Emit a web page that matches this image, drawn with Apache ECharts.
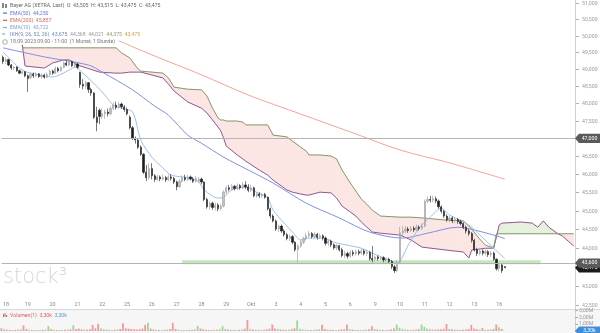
<!DOCTYPE html>
<html><head><meta charset="utf-8">
<script src="https://cdn.jsdelivr.net/npm/echarts@6/dist/echarts.min.js"></script>
<style>html,body{margin:0;padding:0;background:#fff}#c{width:600px;height:333px}</style>
</head><body><div id="c"></div>
<script>
// ---------- data ----------
const dayLabels = ['18','19','20','21','22','25','26','27','28','29','Okt','3','4','5','6','9','10','11','12','13','16'];
const hourLabels = ['09','10','11','12','13','14','15','16','17'];
const futureSlots = 25;
// [open, close, low, high]
const ohlc = [
[49.35,49.22,49.15,49.40],[49.22,49.28,49.15,49.35],[49.28,49.12,49.08,49.30],[49.12,49.03,48.98,49.15],[49.03,49.06,48.97,49.10],[49.06,48.95,48.92,49.08],[48.95,48.88,48.85,48.98],[48.88,48.92,48.84,48.96],[48.92,48.80,48.76,48.94],
[48.80,48.72,48.33,48.84],[48.75,48.85,48.70,48.90],[48.85,48.80,48.74,48.90],[48.80,48.86,48.76,48.90],[48.86,48.78,48.74,48.88],[48.78,48.82,48.72,48.87],[48.82,48.76,48.72,48.86],[48.76,48.84,48.73,48.90],[48.84,48.94,48.80,48.98],
[48.94,48.88,48.83,48.98],[48.88,49.02,48.85,49.08],[49.02,48.95,48.90,49.06],[48.95,49.05,48.92,49.08],[49.05,49.18,49.02,49.22],[49.18,49.12,49.08,49.26],[49.12,49.22,49.08,49.27],[49.22,49.10,49.06,49.25],[49.10,49.15,49.04,49.20],
[49.15,49.05,49.00,49.18],[48.90,48.55,48.45,48.92],[48.55,48.50,48.40,48.70],[48.50,48.60,48.42,48.66],[48.60,48.40,48.30,48.62],[48.40,48.30,48.22,48.45],[48.30,47.60,47.55,48.32],[47.60,47.45,47.20,47.90],[47.80,47.62,47.40,47.85],
[47.62,47.70,47.55,47.85],[47.70,47.75,47.55,47.82],[47.75,47.70,47.62,47.85],[47.70,47.85,47.65,47.92],[47.85,47.95,47.80,48.02],[47.95,47.88,47.82,48.05],[47.88,47.98,47.84,48.04],[47.98,47.90,47.84,48.02],[47.90,47.82,47.76,47.95],
[47.82,47.70,47.65,47.88],[47.60,47.30,47.25,47.65],[47.30,47.00,46.95,47.35],[47.00,46.95,46.85,47.05],[46.95,46.75,46.70,47.00],[46.75,46.55,46.50,46.80],[46.55,46.05,46.00,46.58],[46.05,45.90,45.80,46.25],[45.90,46.15,45.85,46.30],
[46.15,45.95,45.85,46.30],[45.95,45.85,45.78,46.00],[45.85,45.92,45.80,45.98],[45.92,45.86,45.80,45.96],[45.86,45.90,45.82,45.98],[45.90,45.84,45.78,45.95],[45.84,45.92,45.80,45.98],[45.92,45.88,45.82,46.00],[45.88,45.78,45.72,45.92],
[45.78,45.65,45.55,45.82],[45.65,45.80,45.62,45.86],[45.80,45.90,45.76,45.96],[45.90,45.85,45.80,45.98],[45.85,45.92,45.80,45.98],[45.92,45.86,45.82,45.96],[45.86,45.80,45.75,45.92],[45.80,45.88,45.76,45.94],[45.80,45.86,45.76,45.92],
[45.86,45.78,45.72,45.90],[45.78,45.30,45.25,45.80],[45.30,45.10,45.05,45.35],[45.10,45.20,45.02,45.25],[45.20,45.08,45.02,45.24],[45.08,45.15,45.00,45.22],[45.15,45.05,44.98,45.20],[45.05,45.12,45.00,45.18],[45.12,45.50,45.08,45.55],
[45.50,45.62,45.45,45.68],[45.62,45.58,45.52,45.70],[45.58,45.66,45.55,45.72],[45.66,45.60,45.55,45.70],[45.60,45.68,45.56,45.74],[45.68,45.62,45.57,45.72],[45.62,45.70,45.58,45.78],[45.70,45.64,45.58,45.80],[45.64,45.55,45.50,45.72],
[45.55,45.62,45.50,45.70],[45.62,45.40,45.36,45.65],[45.40,45.45,45.35,45.50],[45.45,45.40,45.34,45.50],[45.40,45.44,45.35,45.48],[45.44,45.36,45.32,45.48],[45.36,45.05,45.00,45.38],[45.05,44.85,44.78,45.08],[44.85,44.72,44.68,44.90],
[44.72,44.50,44.45,44.76],[44.50,44.58,44.42,44.62],[44.58,44.45,44.40,44.62],[44.45,44.35,44.30,44.50],[44.35,44.25,44.20,44.40],[44.25,44.30,44.18,44.36],[44.30,44.15,44.10,44.34],[44.15,43.95,43.90,44.18],[43.95,44.05,43.62,44.10],
[44.05,44.15,44.00,44.22],[44.15,44.25,44.10,44.30],[44.25,44.32,44.20,44.40],[44.32,44.38,44.28,44.45],[44.38,44.30,44.25,44.42],[44.30,44.36,44.26,44.42],[44.36,44.28,44.22,44.40],[44.28,44.32,44.24,44.38],[44.32,44.26,44.20,44.36],
[44.26,44.12,44.06,44.30],[44.12,44.18,44.05,44.24],[44.18,44.08,44.02,44.22],[44.08,44.00,43.95,44.12],[44.00,44.06,43.94,44.10],[44.06,43.95,43.90,44.08],[43.95,43.80,43.75,44.00],[43.80,43.85,43.72,43.92],[43.85,43.78,43.72,43.90],
[43.78,43.88,43.74,43.94],[43.88,43.84,43.78,43.94],[43.84,43.90,43.80,43.96],[43.90,43.86,43.80,43.95],[43.86,43.92,43.82,43.98],[43.92,43.85,43.80,43.96],[43.85,43.88,43.78,43.95],[43.88,43.72,43.66,43.92],[43.72,43.68,43.62,44.05],
[43.70,43.76,43.64,43.80],[43.76,43.72,43.66,43.80],[43.72,43.74,43.66,43.78],[43.74,43.68,43.62,43.78],[43.68,43.70,43.62,43.74],[43.70,43.64,43.58,43.74],[43.64,43.50,43.44,43.68],[43.50,43.40,43.34,43.55],[43.40,43.62,43.36,43.68],
[43.62,44.40,43.58,44.55],[44.40,44.45,44.30,44.58],[44.45,44.50,44.40,44.58],[44.50,44.46,44.40,44.56],[44.46,44.52,44.42,44.58],[44.52,44.48,44.42,44.58],[44.48,44.55,44.44,44.62],[44.55,44.52,44.46,44.60],[44.52,44.58,44.48,44.66],
[44.58,45.25,44.55,45.30],[45.25,45.30,45.20,45.38],[45.30,45.28,45.22,45.40],[45.28,45.32,45.22,45.40],[45.32,45.26,45.20,45.38],[45.26,45.10,45.05,45.30],[45.10,44.98,44.92,45.14],[44.98,44.85,44.80,45.02],[44.85,44.75,44.70,44.90],
[44.75,44.80,44.68,44.86],[44.80,44.72,44.66,44.84],[44.72,44.76,44.66,44.82],[44.76,44.70,44.64,44.80],[44.70,44.65,44.60,44.76],[44.65,44.55,44.50,44.68],[44.55,44.45,44.38,44.60],[44.45,44.38,44.32,44.50],[44.38,44.20,44.14,44.42],
[44.20,43.95,43.90,44.24],[43.95,43.85,43.78,44.00],[43.85,43.92,43.80,43.96],[43.92,43.86,43.80,43.96],[43.86,43.90,43.80,43.96],[43.90,43.82,43.76,43.94],[43.82,43.86,43.76,43.92],[43.86,43.70,43.66,43.90],[43.70,43.45,43.40,43.72],
[43.45,43.55,43.38,43.60],[43.55,43.40,43.34,43.58],[43.505,43.475,43.475,43.515]
];
// volume in millions
const volume = [
0.40,0.25,0.18,0.16,0.14,0.15,0.18,0.26,0.80, 0.30,0.20,0.16,0.14,0.12,0.14,0.18,0.22,0.72,
0.28,0.20,0.15,0.14,0.16,0.18,0.20,0.25,0.80, 0.30,0.35,0.25,0.22,0.20,0.28,0.90,0.40,1.05,
0.35,0.25,0.20,0.18,0.16,0.18,0.22,0.30,1.15, 0.40,0.35,0.30,0.25,0.22,0.28,0.35,0.90,1.20,
0.35,0.22,0.18,0.16,0.15,0.18,0.20,0.28,1.20, 0.30,0.20,0.16,0.14,0.13,0.15,0.18,0.24,0.75,
0.35,0.25,0.20,0.16,0.15,0.18,0.20,0.26,0.70, 0.30,0.22,0.18,0.16,0.15,0.17,0.22,0.35,1.60,
0.30,0.22,0.18,0.16,0.16,0.18,0.24,0.35,0.95, 0.35,0.28,0.22,0.18,0.17,0.20,0.28,0.40,1.55,
0.30,0.22,0.18,0.16,0.15,0.17,0.20,0.26,0.90, 0.30,0.22,0.18,0.16,0.15,0.17,0.22,0.28,0.95,
0.28,0.20,0.16,0.15,0.14,0.16,0.20,0.26,0.70, 0.30,0.22,0.18,0.16,0.15,0.17,0.22,0.35,0.95,
0.50,0.30,0.22,0.18,0.16,0.18,0.22,0.28,0.95, 0.60,0.35,0.25,0.22,0.20,0.22,0.26,0.32,1.00,
0.30,0.24,0.20,0.18,0.16,0.18,0.22,0.30,0.90, 0.35,0.25,0.20,0.45,0.18,0.18,0.22,0.30,0.95,
0.55,0.30,0.0033
];
// [slot, value]
const ema10 = [[0,49.51],[7,48.97],[13,48.83],[18,48.77],[24,48.97],[26,49.06],[29,48.88],[36,48.33],[40,47.95],[43,47.86],[47,47.75],[50,46.95],[54,46.47],[58,46.17],[61,45.97],[68,45.89],[71,45.78],[73,45.56],[78,45.34],[80,45.36],[83,45.56],[88,45.64],[92,45.50],[96,45.34],[98,45.01],[102,44.66],[105,44.42],[108,44.21],[111,44.26],[116,44.26],[120,44.15],[125,44.07],[130,43.99],[134,43.86],[140,43.68],[143,43.60],[147,44.07],[151,44.53],[155,44.82],[159,45.06],[162,44.88],[169,44.61],[173,44.34],[178,43.99],[182,43.722]];
const ema50 = [[0,49.63],[15,49.36],[31,49.12],[36,48.91],[47,48.39],[55,47.92],[60,47.66],[67,47.09],[72,46.86],[80,46.47],[89,46.11],[98,45.75],[110,45.20],[122,44.80],[133,44.42],[145,44.26],[154,44.39],[165,44.55],[174,44.42],[182,44.25]];
const ema200 = [[42,49.84],[54,49.42],[72,48.83],[89,48.24],[108,47.69],[126,47.18],[144,46.67],[162,46.31],[182,45.857]];
const cloudSlots = [7,8,15,18,22,24,27,35,41,43,46,49,50,58,60,62,67,72,74,76,78,79,80,81,85,87,88,93,96,98,103,105,108,110,111,115,119,121,123,126,128,130,132,134,137,144,148,152,161,167,169,170,173,175,177,178,179,180,181,188,192,194,196,198,201,203,205,207];
const senkouA = [49.72,49.09,49.03,49.18,49.27,49.27,49.12,48.91,48.88,48.88,48.91,48.91,48.91,48.74,48.56,48.36,48.04,47.86,47.72,47.52,47.32,47.21,47.01,46.78,46.53,46.42,46.36,46.11,45.97,45.83,45.56,45.50,45.45,45.42,45.42,45.50,45.48,45.34,45.12,44.96,44.85,44.69,44.55,44.42,44.39,44.34,44.21,44.02,43.94,43.89,43.73,43.94,43.97,43.99,43.99,43.99,44.29,44.61,44.66,44.69,44.66,44.55,44.72,44.55,44.39,44.31,44.18,44.05];
const senkouB = [49.63,49.63,49.63,49.63,49.63,49.63,49.63,49.63,49.63,49.48,49.33,49.00,48.94,48.88,48.74,48.47,48.41,48.39,48.21,47.86,47.58,47.52,47.52,47.49,47.49,47.46,47.38,47.38,47.38,47.09,47.04,46.92,46.75,46.64,46.53,46.53,46.50,46.42,46.11,45.75,45.53,45.31,45.17,45.01,44.85,44.82,44.82,44.80,44.74,44.72,44.58,44.50,44.23,44.07,44.02,44.02,44.375,44.375,44.375,44.375,44.375,44.375,44.375,44.375,44.375,44.375,44.375,44.375];
const ikhValues = [43.675, 44.368, 44.021, 44.375, 43.475];
const priceTicks = [42.5,43,43.5,44,44.5,45,45.5,46,46.5,47,47.5,48,48.5,49,49.5,50,50.5,51];
const hLines = [47.0, 43.6];
const supportZone = {from:65, to:195, low:43.57, high:43.67};
const lastPrice = 43.475;
const lastVolume = 0.0033;

// ---------- chart ----------
const N = ohlc.length + futureSlots;
const categories = [];
for (let i = 0; i < N; i++) categories.push(i < ohlc.length ? dayLabels[Math.floor(i/9)] + ' ' + hourLabels[i%9] : '+' + (i - ohlc.length + 1));
const fmt = v => v.toFixed(3).replace('.', ',');
const FONT = 'Roboto, "Liberation Sans", sans-serif';
const PINK = '#fbe6e3', GREEN = '#e5f1de';
const cloudSeg = [];
for (let i = 0; i < cloudSlots.length - 1; i++) cloudSeg.push([cloudSlots[i], senkouA[i], senkouB[i], cloudSlots[i+1], senkouA[i+1], senkouB[i+1]]);
const last = ohlc[ohlc.length - 1];

const chart = echarts.init(document.getElementById('c'), null, {renderer: 'canvas'});
chart.setOption({
  animation: false,
  backgroundColor: '#fff',
  grid: [
    {left: 0, top: 0, width: 575, height: 309},
    {left: 0, top: 310.5, width: 575, height: 20.5}
  ],
  xAxis: [
    {type: 'category', gridIndex: 0, data: categories, boundaryGap: true,
     axisLine: {show: false}, axisTick: {show: false}, splitLine: {show: false},
     axisLabel: {inside: true, margin: 2, color: '#8a8a8a', fontSize: 5.4, fontFamily: FONT, alignMinLabel: 'left',
       interval: (i) => i < ohlc.length && i % 9 === 0,
       formatter: (v) => v.split(' ')[0]}},
    {type: 'category', gridIndex: 1, data: categories, boundaryGap: true,
     axisLine: {show: false}, axisTick: {show: false}, axisLabel: {show: false}}
  ],
  yAxis: [
    {type: 'log', gridIndex: 0, position: 'right', min: 42.41, max: 51.08,
     axisLine: {show: true, lineStyle: {color: '#d0d0d0'}}, axisTick: {show: false}, axisLabel: {show: false}, splitLine: {show: false}},
    {type: 'value', gridIndex: 1, position: 'right', min: 0, max: 3, interval: 1,
     axisLine: {show: true, lineStyle: {color: '#d0d0d0'}}, axisTick: {show: true, length: 3, inside: false, lineStyle: {color: '#aaa'}},
     splitLine: {show: false},
     axisLabel: {color: '#999', fontSize: 5.2, fontFamily: FONT, margin: 4, formatter: v => v === 0 ? '' : v.toFixed(2).replace('.', ',') + 'M'}}
  ],
  graphic: [
    {type: 'rect', shape: {x: 0, y: 309, width: 600, height: 24}, style: {fill: '#f6f6f6'}, z: -10},
    {type: 'line', shape: {x1: 0, y1: 309.5, x2: 600, y2: 309.5}, style: {stroke: '#d8d8d8', lineWidth: 1}, z: -9},
    {type: 'text', x: 3, y: 278, z: -5, style: {text: 'stock³', fill: '#d6d6d6', font: '200 21px "DejaVu Sans", sans-serif', verticalAlign: 'middle'}},
    // legend
    {type: 'group', z: 100, children: [
      {type: 'rect', shape: {x: 2, y: 3, width: 2, height: 5}, style: {fill: '#888'}},
      {type: 'rect', shape: {x: 5, y: 4, width: 2, height: 4}, style: {fill: '#888'}},
      {type: 'text', x: 10, y: 6, style: {text: 'Bayer AG (XETRA, Last)  O: ' + fmt(last[0]) + '  H: ' + fmt(last[3]) + '  L: ' + fmt(last[2]) + '  C: ' + fmt(last[1]), fill: '#666', font: '5.2px ' + FONT, verticalAlign: 'middle'}},
      {type: 'rect', shape: {x: 3, y: 12.5, width: 4, height: 1.2}, style: {fill: '#5b6ee1'}},
      {type: 'text', x: 10, y: 13.2, style: {text: 'EMA(50)  ' + fmt(ema50[ema50.length-1][1]), fill: '#6677dd', font: '5.2px ' + FONT, verticalAlign: 'middle'}},
      {type: 'rect', shape: {x: 3, y: 19.7, width: 4, height: 1.2}, style: {fill: '#e5534b'}},
      {type: 'text', x: 10, y: 20.4, style: {text: 'EMA(200)  ' + fmt(ema200[ema200.length-1][1]), fill: '#e06a60', font: '5.2px ' + FONT, verticalAlign: 'middle'}},
      {type: 'rect', shape: {x: 3, y: 26.9, width: 4, height: 1.2}, style: {fill: '#7fa8e8'}},
      {type: 'text', x: 10, y: 27.6, style: {text: 'EMA(10)  ' + fmt(ema10[ema10.length-1][1]), fill: '#7fa0e0', font: '5.2px ' + FONT, verticalAlign: 'middle'}},
      {type: 'text', x: 2, y: 34.8, style: {text: '≈', fill: '#7a8fb8', font: '6px ' + FONT, verticalAlign: 'middle'}},
      {type: 'text', x: 10, y: 34.8, style: {text: '{a|IKH(9, 26, 52, 26)}  {b|' + fmt(ikhValues[0]) + '}  {c|' + fmt(ikhValues[1]) + '}  {c|' + fmt(ikhValues[2]) + '}  {d|' + fmt(ikhValues[3]) + '}  {e|' + fmt(ikhValues[4]) + '}',
        font: '5.2px ' + FONT, verticalAlign: 'middle',
        rich: {a: {fill: '#7088b8', font: '5.2px ' + FONT}, b: {fill: '#6f86c8', font: '5.2px ' + FONT}, c: {fill: '#999', font: '5.2px ' + FONT}, d: {fill: '#9a9a70', font: '5.2px ' + FONT}, e: {fill: '#e0a040', font: '5.2px ' + FONT}}}},
      {type: 'circle', shape: {cx: 5, cy: 42, r: 2.3}, style: {fill: 'none', stroke: '#888', lineWidth: 0.7}},
      {type: 'text', x: 10, y: 42, style: {text: '18.09.2023 09:00 - 11:00  (1 Monat, 1 Stunde)', fill: '#777', font: '5.2px ' + FONT, verticalAlign: 'middle'}},
      // volume legend
      {type: 'rect', shape: {x: 3, y: 314, width: 1, height: 3}, style: {fill: '#e06060'}},
      {type: 'rect', shape: {x: 4.5, y: 313, width: 1, height: 4}, style: {fill: '#e06060'}},
      {type: 'rect', shape: {x: 6, y: 315, width: 1, height: 2}, style: {fill: '#e06060'}},
      {type: 'text', x: 10, y: 315.5, style: {text: '{r|Volumen(1)  3,30k}  {b|3,30k}', font: '5.2px ' + FONT, verticalAlign: 'middle',
        rich: {r: {fill: '#e06060', font: '5.2px ' + FONT}, b: {fill: '#5b9bd5', font: '5.2px ' + FONT}}}}
    ]}
  ],
  series: [
    {type: 'custom', name: 'cloud', xAxisIndex: 0, yAxisIndex: 0, z: 1, silent: true, clip: true,
     data: cloudSeg, encode: {x: [0, 3], y: [1, 2, 4, 5]},
     renderItem: (params, api) => {
       const x0 = api.value(0), a0 = api.value(1), b0 = api.value(2), x1 = api.value(3), a1 = api.value(4), b1 = api.value(5);
       const A0 = api.coord([x0, a0]), B0 = api.coord([x0, b0]), A1 = api.coord([x1, a1]), B1 = api.coord([x1, b1]);
       const e0 = B0[1] - A0[1], e1 = B1[1] - A1[1];
       const col = e => e > 0 ? GREEN : PINK;
       if (e0 * e1 >= 0) { const c = col(e0 + e1); return {type: 'polygon', shape: {points: [A0, A1, B1, B0]}, style: {fill: c, stroke: c, lineWidth: 0.8}}; }
       const t = e0 / (e0 - e1);
       const X = [A0[0] + t * (A1[0] - A0[0]), A0[1] + t * (A1[1] - A0[1])];
       return {type: 'group', children: [
         {type: 'polygon', shape: {points: [A0, X, B0]}, style: {fill: col(e0), stroke: col(e0), lineWidth: 0.8}},
         {type: 'polygon', shape: {points: [X, A1, B1]}, style: {fill: col(e1), stroke: col(e1), lineWidth: 0.8}}
       ]};
     }},
    {type: 'line', name: 'senkouA', z: 3, data: cloudSlots.map((s, i) => [s, senkouA[i]]), showSymbol: false, silent: true,
     lineStyle: {color: '#8f5a92', width: 1}},
    {type: 'line', name: 'senkouB', z: 3, data: cloudSlots.map((s, i) => [s, senkouB[i]]), showSymbol: false, silent: true,
     lineStyle: {color: '#82996c', width: 1}},
    {type: 'line', name: 'EMA200', z: 3, data: ema200, showSymbol: false, smooth: 0.3, silent: true, lineStyle: {color: '#f2a49c', width: 1}},
    {type: 'line', name: 'EMA50', z: 3, data: ema50, showSymbol: false, smooth: 0.3, silent: true, lineStyle: {color: '#8090e4', width: 1}},
    {type: 'line', name: 'EMA10', z: 3, data: ema10, showSymbol: false, smooth: 0.3, silent: true, lineStyle: {color: '#9cc0f2', width: 1}},
    {type: 'candlestick', name: 'Bayer', z: 4, data: ohlc, barWidth: 1.7, silent: true,
     itemStyle: {color: '#c4c4c4', color0: '#1e1e1e', borderColor: '#9a9a9a', borderColor0: '#1e1e1e', borderWidth: 0.6},
     markLine: {silent: true, symbol: 'none', label: {show: false}, lineStyle: {color: '#b5b5b5', type: 'solid', width: 1},
       data: hLines.map(v => ({yAxis: v}))},
     markArea: {silent: true, itemStyle: {color: 'rgba(140,205,120,0.5)'},
       data: [[{xAxis: supportZone.from, yAxis: supportZone.low}, {xAxis: supportZone.to, yAxis: supportZone.high}]]}},
    {type: 'bar', name: 'Volumen', xAxisIndex: 1, yAxisIndex: 1, barWidth: 1.8, silent: true,
     data: volume.map((v, i) => ({value: v, itemStyle: {color: ohlc[i][1] >= ohlc[i][0] ? '#9fd39a' : '#ef9a9a'}}))},
    // price axis tick labels
    {type: 'custom', name: 'ticks', xAxisIndex: 0, yAxisIndex: 0, clip: false, silent: true, z: 5,
     data: priceTicks.map(v => [0, v]),
     renderItem: (params, api) => {
       const y = Math.round(api.coord([0, api.value(1)])[1]) + 0.5;
       return {type: 'group', children: [
         {type: 'line', shape: {x1: 576, y1: y, x2: 579, y2: y}, style: {stroke: '#b0b0b0', lineWidth: 1}},
         {type: 'text', style: {text: fmt(api.value(1)), x: 582, y: y, fill: '#9a9a9a', font: '5.2px ' + FONT, verticalAlign: 'middle', align: 'left'}}
       ]};
     }},
    // value boxes on the price axis
    {type: 'custom', name: 'boxes', xAxisIndex: 0, yAxisIndex: 0, clip: false, silent: true, z: 10,
     data: [[0, lastPrice, 0], [0, hLines[1], 1], [0, hLines[0], 1]],
     renderItem: (params, api) => {
       const v = api.value(1);
       const y = api.coord([0, v])[1];
       const fill = api.value(2) ? '#5a5a5a' : '#1c1c1c';
       return {type: 'group', children: [
         {type: 'polygon', shape: {points: [[575, y], [579, y - 4.6], [600, y - 4.6], [600, y + 4.6], [579, y + 4.6]]}, style: {fill: fill}},
         {type: 'text', style: {text: fmt(v), x: 589.5, y: y, fill: '#fff', font: '5.2px ' + FONT, verticalAlign: 'middle', align: 'center'}}
       ]};
     }},
    {type: 'custom', name: 'volbox', xAxisIndex: 1, yAxisIndex: 1, clip: false, silent: true, z: 10,
     data: [[0, lastVolume]],
     renderItem: (params, api) => {
       const y = api.coord([0, api.value(1)])[1];
       return {type: 'group', children: [
         {type: 'polygon', shape: {points: [[575, y], [579, y - 4.6], [600, y - 4.6], [600, y + 4.6], [579, y + 4.6]]}, style: {fill: '#3d8fdb'}},
         {type: 'text', style: {text: '3,30k', x: 589.5, y: y, fill: '#fff', font: '5.2px ' + FONT, verticalAlign: 'middle', align: 'center'}}
       ]};
     }}
  ]
});
</script></body></html>
